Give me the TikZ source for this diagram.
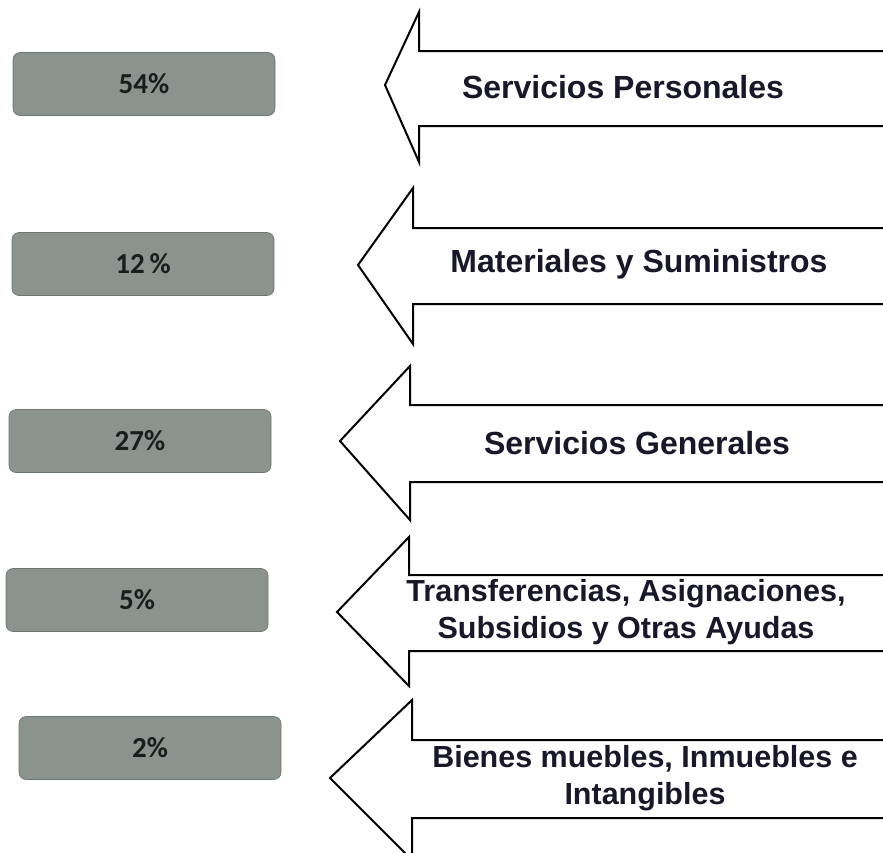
\documentclass[tikz,border=0pt]{standalone}
\usepackage{fontspec}
\setmainfont{Liberation Sans}
\newfontfamily\pctfont{Carlito}
\definecolor{boxgrey}{RGB}{138,147,141}
\definecolor{pctink}{RGB}{24,30,30}
\definecolor{lblink}{RGB}{24,24,42}
\tikzset{
  pctbox/.style={fill=boxgrey, draw=boxgrey!80!black, line width=0.6pt, rounded corners=7pt,
    minimum width=262pt, minimum height=63pt, inner sep=0pt,
    font=\pctfont\bfseries\fontsize{29}{34}\selectfont, text=pctink},
  arrowline/.style={draw=black, fill=white, line width=2pt, line join=miter},
  lbl/.style={align=center, text=lblink, inner sep=0pt,
    font=\bfseries\fontsize{32}{37}\selectfont},
  lbltwo/.style={lbl, font=\bfseries\fontsize{30.5}{37}\selectfont}
}
\begin{document}
\begin{tikzpicture}[x=1pt,y=-1pt]
    \useasboundingbox (0,0) rectangle (883,852);
    \clip (0,0) rectangle (883,852);
    \node[pctbox] (p1) at (144,84) {54\%};
    \node[pctbox] (p2) at (143,264) {12\,\%};
    \node[pctbox] (p3) at (140,441) {27\%};
    \node[pctbox] (p4) at (137,600) {5\%};
    \node[pctbox] (p5) at (150,748) {2\%};
    \draw[arrowline] (385,85) -- (419,12) -- (419,51) -- (895,51) -- (895,126) -- (419,126) -- (419,162) -- cycle;
    \draw[arrowline] (358,265) -- (413,188) -- (413,228) -- (895,228) -- (895,304) -- (413,304) -- (413,344) -- cycle;
    \draw[arrowline] (340,441) -- (410,366) -- (410,405) -- (895,405) -- (895,482) -- (410,482) -- (410,520) -- cycle;
    \draw[arrowline] (337,612) -- (409,537) -- (409,575) -- (895,575) -- (895,651) -- (409,651) -- (409,686) -- cycle;
    \draw[arrowline] (330,778) -- (412,700) -- (412,740) -- (895,740) -- (895,818) -- (412,818) -- (412,860) -- cycle;
    \node[lbl] (a1) at (623,87) {Servicios Personales};
    \node[lbl] (a2) at (639,264) {Materiales y Suministros};
    \node[lbl] (a3) at (637,443) {Servicios Generales};
    \node[lbltwo] (a4) at (626,612) {Transferencias, Asignaciones,\\Subsidios y Otras Ayudas};
    \node[lbltwo] (a5) at (645,778) {Bienes muebles, Inmuebles e\\Intangibles};
\end{tikzpicture}
\end{document}
